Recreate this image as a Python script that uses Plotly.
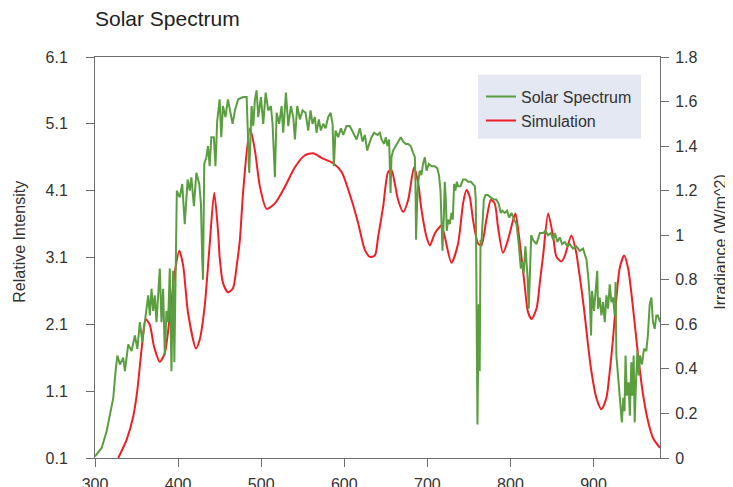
import plotly.graph_objects as go

# Solar spectrum (irradiance, right axis)
solar_wl = [300, 308, 314, 318, 322, 325, 327, 330, 334, 336, 340, 344, 348, 351, 354, 357, 360, 364, 366, 368,
            370, 372, 374, 378, 380, 382, 384, 386, 388, 390, 392, 394, 395.5, 397.5, 398.5, 402, 405, 408, 411.5, 414,
            416, 419, 422, 425.5, 427.5, 429, 430, 431.5, 434, 436, 438, 440, 443, 445, 447, 450, 452, 454, 457, 460,
            463, 465.6, 468.4, 472.4, 478.4, 482.5, 485.6, 488.5, 490.5, 492.5, 494.5, 496.5, 499.7, 502.5, 505.4,
            508.5, 511.7, 513.7, 516.5, 518.6, 521.7, 524.6, 526.5, 529.8, 532.6, 535.8, 538.6, 540.6, 543.4, 546.6,
            549.8, 553.4, 556.6, 559.4, 561.8, 564.6, 566.6, 569.4, 571.8, 574.6, 577.5, 580.6, 583.5, 585.9, 587.5,
            589.5, 592.7, 596, 598.7, 602.7, 606.7, 610.7, 614.8, 618.8, 622, 624.8, 627.6, 630, 632.8, 636, 640,
            642.8, 644.9, 648, 650, 652, 654, 655.7, 656.8, 658.8, 661.7, 664.8, 668, 670.9, 674, 676.9, 680, 682.9,
            685, 685.7, 686.4, 687.6, 688.8, 690.8, 692.8, 694.8, 697, 699, 701.8, 705, 709, 712, 714, 715.8, 717,
            718.2, 719.8, 721, 722.2, 723.4, 725, 727, 729, 730.6, 732.2, 733.8, 735.5, 737, 739.9, 743, 746, 749,
            752.4, 755, 757.1, 758.3, 760.3, 761.8, 763, 764, 765, 768, 770, 772.7, 777, 780, 783, 786, 788.4, 790.4,
            793.2, 796, 798.4, 801.3, 804.4, 807.3, 810, 812.5, 814, 816, 818, 820.5, 822, 823.6, 825, 827, 831.3,
            835.4, 839.4, 842.2, 845.4, 848.6, 851.4, 853.4, 856.6, 859.4, 862.2, 865.4, 868.6, 871.3, 875.4, 879.4,
            883.4, 887.4, 890.3, 891.5, 893.5, 895.5, 897, 898.2, 900.6, 903.5, 904.5, 905.4, 907.5, 909.5, 911.5,
            913.5, 915.5, 917.5, 919.5, 921.5, 923.5, 925.5, 926.5, 927.5, 930, 932.5, 934.1, 935.8, 937.3, 938.5,
            940.1, 942.2, 943.7, 945.5, 946.7, 948.3, 949.5, 951.1, 952.8, 954.4, 955.9, 958.3, 960.7, 963.5, 965.4,
            967.6, 969.6, 971.5, 973.6, 975.6, 977.5, 980]
solar_irr = [0.007, 0.045, 0.12, 0.19, 0.27, 0.40, 0.46, 0.42, 0.45, 0.39, 0.51, 0.48, 0.55, 0.49, 0.61, 0.52, 0.60,
             0.73, 0.64, 0.76, 0.66, 0.73, 0.61, 0.85, 0.61, 0.76, 0.46, 0.66, 0.61, 0.85, 0.39, 0.84, 0.43, 0.91,
             1.20, 1.17, 1.23, 1.05, 1.25, 1.20, 1.26, 1.13, 1.28, 1.23, 1.14, 0.90, 0.80, 1.32, 1.35, 1.40, 1.31,
             1.44, 1.44, 1.31, 1.51, 1.61, 1.44, 1.58, 1.53, 1.61, 1.55, 1.50, 1.56, 1.61, 1.62, 1.62, 1.28, 1.58,
             1.49, 1.61, 1.65, 1.53, 1.62, 1.50, 1.64, 1.56, 1.58, 1.50, 1.26, 1.55, 1.50, 1.58, 1.46, 1.64, 1.49,
             1.58, 1.53, 1.43, 1.58, 1.52, 1.56, 1.55, 1.47, 1.56, 1.50, 1.53, 1.46, 1.52, 1.47, 1.50, 1.48, 1.53,
             1.55, 1.50, 1.31, 1.47, 1.44, 1.48, 1.45, 1.49, 1.49, 1.46, 1.43, 1.48, 1.42, 1.45, 1.38, 1.41, 1.44,
             1.46, 1.45, 1.46, 1.43, 1.41, 1.44, 1.40, 1.43, 1.19, 1.35, 1.38, 1.40, 1.42, 1.44, 1.42, 1.41, 1.41,
             1.40, 1.37, 1.35, 1.23, 0.98, 1.13, 1.23, 1.29, 1.27, 1.32, 1.35, 1.29, 1.32, 1.31, 1.31, 1.30, 1.27,
             1.20, 1.08, 0.93, 1.08, 1.24, 1.16, 1.02, 1.07, 1.05, 1.10, 1.07, 1.23, 1.20, 1.24, 1.22, 1.22, 1.25,
             1.25, 1.24, 1.24, 1.23, 1.22, 1.16, 0.15, 0.69, 0.39, 0.98, 0.96, 1.16, 1.18, 1.18, 1.17, 1.16, 1.16,
             1.14, 1.10, 1.11, 1.10, 1.11, 1.08, 1.10, 1.07, 1.05, 0.96, 0.85, 0.88, 0.83, 0.95, 0.82, 0.67, 0.90,
             1.00, 0.98, 0.96, 1.01, 1.01, 1.02, 1.00, 1.01, 0.98, 1.01, 0.97, 0.99, 0.96, 0.97, 0.95, 0.96, 0.94,
             0.95, 0.93, 0.94, 0.90, 0.89, 0.82, 0.72, 0.55, 0.75, 0.66, 0.80, 0.84, 0.67, 0.72, 0.64, 0.70, 0.61,
             0.73, 0.67, 0.78, 0.70, 0.72, 0.64, 0.79, 0.46, 0.34, 0.22, 0.16, 0.27, 0.21, 0.46, 0.28, 0.34, 0.19,
             0.43, 0.28, 0.46, 0.16, 0.34, 0.48, 0.37, 0.46, 0.42, 0.49, 0.48, 0.55, 0.69, 0.72, 0.61, 0.58, 0.64,
             0.64, 0.61]

# Simulation (relative intensity, left axis)
sim_wl = [328, 338, 346, 351, 356, 361, 366, 371, 378, 384, 390, 396, 401.4, 406, 412, 421.5, 426, 432, 437.5,
          443.5, 448.3, 450, 454, 460, 466, 471, 474.4, 478.4, 486.5, 492.5, 498.5, 506.5, 516.5, 528.6, 540.6,
          552.6, 562.6, 572.7, 586.7, 596.8, 608.8, 616.8, 624.9, 630.8, 636.8, 640.8, 646.8, 652.8, 656.8, 660.8,
          664.8, 670.9, 676.9, 684, 689, 693, 699, 703, 709, 715, 717, 721, 729, 737, 743, 747, 751, 755, 761, 765,
          771, 776.4, 781, 785, 791, 797, 803, 806, 810, 813, 817.5, 821, 825.4, 831.5, 835.5, 839.4, 845.4, 851.4,
          855.4, 861.3, 865, 873.4, 879.4, 881.4, 885.4, 889.4, 893.4, 897.5, 903.4, 909.5, 915.5, 919.5, 923.5,
          927.5, 931.5, 936.8, 941.6, 947.6, 953.6, 959.6, 965.6, 971.6, 980]
sim_rel = [0.10, 0.37, 0.72, 1.12, 1.72, 2.18, 2.09, 1.77, 1.54, 1.67, 2.22, 2.87, 3.20, 2.99, 2.27, 1.74, 1.87,
           2.37, 3.21, 4.07, 3.46, 3.11, 2.72, 2.58, 2.64, 3.02, 3.37, 4.10, 5.03, 4.70, 4.16, 3.83, 3.91, 4.16,
           4.45, 4.63, 4.66, 4.59, 4.51, 4.38, 3.96, 3.61, 3.21, 3.11, 3.13, 3.41, 3.86, 4.38, 4.41, 4.21, 3.96,
           3.78, 3.96, 4.45, 4.21, 3.81, 3.41, 3.28, 3.46, 3.56, 3.58, 3.41, 3.02, 3.31, 3.91, 4.11, 4.01, 3.66,
           3.31, 3.28, 3.66, 3.96, 3.91, 3.56, 3.17, 3.36, 3.65, 3.76, 3.45, 3.14, 2.64, 2.29, 2.18, 2.34, 2.74,
           3.14, 3.76, 3.41, 3.11, 3.04, 3.11, 3.43, 3.16, 2.99, 2.64, 2.24, 1.79, 1.39, 1.00, 0.83, 1.00, 1.39,
           1.89, 2.49, 2.94, 3.13, 2.94, 2.34, 1.64, 1.05, 0.65, 0.40, 0.25]

x_ticks = [300, 400, 500, 600, 700, 800, 900]
left_ticks = [0.1, 1.1, 2.1, 3.1, 4.1, 5.1, 6.1]
right_ticks = [0, 0.2, 0.4, 0.6, 0.8, 1, 1.2, 1.4, 1.6, 1.8]

GREEN = "#5a9e3f"
RED = "#ee1f25"
AXIS = "#6e6e6e"
LEGEND_BG = "#e4e8f2"
FONT = "Liberation Sans, Arial, sans-serif"

fig = go.Figure()
fig.add_trace(go.Scatter(x=solar_wl, y=solar_irr, mode="lines", name="Solar Spectrum",
                         line=dict(color=GREEN, width=2), yaxis="y2"))
fig.add_trace(go.Scatter(x=sim_wl, y=sim_rel, mode="lines", name="Simulation",
                         line=dict(color=RED, width=2, shape="spline", smoothing=0.7), yaxis="y"))

axis_common = dict(showline=True, linecolor=AXIS, linewidth=1, ticks="outside", ticklen=8,
                   tickcolor=AXIS, showgrid=False, zeroline=False, automargin=False,
                   tickfont=dict(family=FONT, size=16, color="#333333"))

# page has an 8px body margin: figure starts at (8, 8) in the window
OFF = 8
W, H = 733 - OFF, 487 - OFF
L, R, T, B = 95 - OFF, 73, 57 - OFF, 29
pw = W - L - R
ph = H - T - B


def px_x(v):
    """window pixel x -> paper fraction"""
    return (v - 95) / pw


def px_y(v):
    """window pixel y -> paper fraction"""
    return (458.3 - v) / ph


fig.update_layout(
    width=W, height=H,
    margin=dict(l=L, r=R, t=T, b=B, autoexpand=False),
    paper_bgcolor="white", plot_bgcolor="white",
    font=dict(family=FONT, color="#333333"),
    title=dict(text="Solar Spectrum", x=(95 - OFF) / W, xref="container", xanchor="left",
               y=1 - (19 - OFF) / H, yref="container", yanchor="middle",
               font=dict(family=FONT, size=21, color="#222222")),
    xaxis=dict(range=[300, 980], tickvals=x_ticks, mirror=True, ticklabelstandoff=4, **axis_common),
    yaxis=dict(range=[0.1, 6.1], tickvals=left_ticks, ticktext=[f"{v:.1f}" for v in left_ticks],
               ticklabelstandoff=15, **axis_common),
    yaxis2=dict(range=[0, 1.8], tickvals=right_ticks, overlaying="y", side="right",
                ticklabelstandoff=3, **axis_common),
    legend=dict(x=px_x(481), xanchor="left", y=px_y(80), yanchor="top", bgcolor="rgba(0,0,0,0)",
                font=dict(family=FONT, size=16, color="#333333"), borderwidth=0,
                tracegroupgap=0, itemwidth=30),
    showlegend=True,
    shapes=[dict(type="rect", xref="paper", yref="paper", x0=px_x(478), x1=px_x(641),
                 y0=px_y(139), y1=px_y(75), fillcolor=LEGEND_BG, line=dict(width=0), layer="above")],
    annotations=[
        dict(text="Relative Intensity", textangle=-90, x=px_x(20), xref="paper", xanchor="center",
             y=px_y(242), yref="paper", yanchor="middle", showarrow=False,
             font=dict(family=FONT, size=16, color="#333333")),
        dict(text="Irradiance (W/m^2)", textangle=-90, x=px_x(721), xref="paper", xanchor="center",
             y=px_y(242), yref="paper", yanchor="middle", showarrow=False,
             font=dict(family=FONT, size=16, color="#333333")),
    ],
)

fig.write_html("out.html")
